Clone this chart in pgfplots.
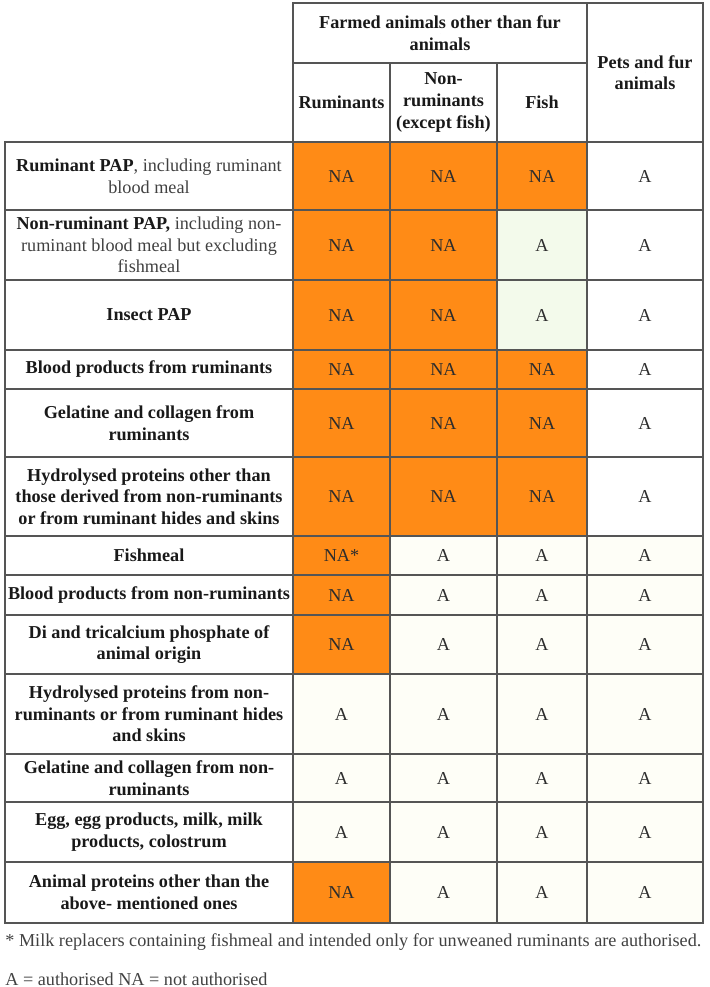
\documentclass[border=0pt]{standalone}
\usepackage{fontspec}
\setmainfont{Liberation Serif}
\usepackage{pgfplots}
\pgfplotsset{compat=1.18}
\definecolor{na}{RGB}{255,139,22}
\definecolor{ac}{RGB}{254,254,247}
\definecolor{ag}{RGB}{243,250,235}
\definecolor{wh}{RGB}{255,255,255}
\definecolor{rule}{RGB}{85,85,85}
\definecolor{celltxt}{RGB}{45,45,45}
\definecolor{lbl}{RGB}{25,25,25}
\definecolor{lite}{RGB}{65,65,65}

\newcommand\tabfont{\fontsize{9.1}{10.8}\selectfont}

% one node per cell, sized from the w and h columns (1 unit = 0.5pt)
\pgfplotsset{
  cellbox/.style={only marks, mark=*, mark size=0pt, mark options={draw=none,fill=none},
    visualization depends on={value \thisrow{w}\as\cw},
    visualization depends on={value \thisrow{h}\as\ch},
    visualization depends on={value \thisrow{f}\as\cfill},
    nodes near coords align={center},
    every node near coord/.append style={anchor=center, draw=rule, line width=0.6pt,
      inner sep=0pt, outer sep=0pt, text=celltxt, font=\tabfont,
      fill=\cfill, minimum width=\cw*0.5pt, minimum height=\ch*0.5pt}},
}
\tikzset{
  hd/.style={align=center, font=\tabfont\bfseries, text=lbl, inner sep=0pt},
  note/.style={anchor=base west, inner sep=0pt, text=lite, font=\tabfont},
}

\begin{document}
\begin{tikzpicture}
\begin{axis}[scale only axis, width=354.5pt, height=493.5pt,
  xmin=0, xmax=709, ymin=0, ymax=987, y dir=reverse,
  hide axis, clip=false]
\path (axis cs:0,0) rectangle (axis cs:709,987);

% header cells and row-label cells (no value, left unfilled)
\addplot[cellbox, nodes near coords={\relax}] table {
x     y     w   h   f
440   33    294 60  none
341.5 102.5 97  79  none
443.5 102.5 107 79  none
542   102.5 90  79  none
645   72.5  116 139 none
149   176   288 68  none
149   245   288 70  none
149   315   288 70  none
149   369.5 288 39  none
149   423   288 68  none
149   496.5 288 79  none
149   555.5 288 39  none
149   595   288 40  none
149   644.5 288 59  none
149   714   288 80  none
149   778   288 48  none
149   832   288 60  none
149   892.5 288 61  none
};

% status cells: NA = not authorised, A = authorised
\addplot[cellbox, point meta=explicit symbolic, nodes near coords] table[meta=lab] {
x     y     w   h  lab f
341.5 176   97  68 NA  na
443.5 176   107 68 NA  na
542   176   90  68 NA  na
645   176   116 68 A   wh
341.5 245   97  70 NA  na
443.5 245   107 70 NA  na
542   245   90  70 A   ag
645   245   116 70 A   wh
341.5 315   97  70 NA  na
443.5 315   107 70 NA  na
542   315   90  70 A   ag
645   315   116 70 A   wh
341.5 369.5 97  39 NA  na
443.5 369.5 107 39 NA  na
542   369.5 90  39 NA  na
645   369.5 116 39 A   wh
341.5 423   97  68 NA  na
443.5 423   107 68 NA  na
542   423   90  68 NA  na
645   423   116 68 A   wh
341.5 496.5 97  79 NA  na
443.5 496.5 107 79 NA  na
542   496.5 90  79 NA  na
645   496.5 116 79 A   wh
341.5 555.5 97  39 NA* na
443.5 555.5 107 39 A   ac
542   555.5 90  39 A   ac
645   555.5 116 39 A   ac
341.5 595   97  40 NA  na
443.5 595   107 40 A   ac
542   595   90  40 A   ac
645   595   116 40 A   ac
341.5 644.5 97  59 NA  na
443.5 644.5 107 59 A   ac
542   644.5 90  59 A   ac
645   644.5 116 59 A   ac
341.5 714   97  80 A   ac
443.5 714   107 80 A   ac
542   714   90  80 A   ac
645   714   116 80 A   ac
341.5 778   97  48 A   ac
443.5 778   107 48 A   ac
542   778   90  48 A   ac
645   778   116 48 A   ac
341.5 832   97  60 A   ac
443.5 832   107 60 A   ac
542   832   90  60 A   ac
645   832   116 60 A   ac
341.5 892.5 97  61 NA  na
443.5 892.5 107 61 A   ac
542   892.5 90  61 A   ac
645   892.5 116 61 A   ac
};

\node[hd] at (axis cs:440,33) {Farmed animals other than fur\\animals};
\node[hd] at (axis cs:341.5,102.5) {Ruminants};
\node[hd] at (axis cs:443.5,102.5) {Non-\\ruminants\\(except fish)};
\node[hd] at (axis cs:542,102.5) {Fish};
\node[hd] at (axis cs:645,72.5) {Pets and fur\\animals};

\node[hd] at (axis cs:149,176) {Ruminant PAP\textcolor{lite}{\mdseries, including ruminant}\\\textcolor{lite}{\mdseries blood meal}};
\node[hd] at (axis cs:149,245) {Non-ruminant PAP,\textcolor{lite}{\mdseries{} including non-}\\\textcolor{lite}{\mdseries ruminant blood meal but excluding}\\\textcolor{lite}{\mdseries fishmeal}};
\node[hd] at (axis cs:149,315) {Insect PAP};
\node[hd] at (axis cs:149,369.5) {Blood products from ruminants};
\node[hd] at (axis cs:149,423) {Gelatine and collagen from\\ruminants};
\node[hd] at (axis cs:149,496.5) {Hydrolysed proteins other than\\those derived from non-ruminants\\or from ruminant hides and skins};
\node[hd] at (axis cs:149,555.5) {Fishmeal};
\node[hd] at (axis cs:149,595) {Blood products from non-ruminants};
\node[hd] at (axis cs:149,644.5) {Di and tricalcium phosphate of\\animal origin};
\node[hd] at (axis cs:149,714) {Hydrolysed proteins from non-\\ruminants or from ruminant hides\\and skins};
\node[hd] at (axis cs:149,778) {Gelatine and collagen from non-\\ruminants};
\node[hd] at (axis cs:149,832) {Egg, egg products, milk, milk\\products, colostrum};
\node[hd] at (axis cs:149,892.5) {Animal proteins other than the\\above- mentioned ones};

\node[note] at (axis cs:5,946) {* Milk replacers containing fishmeal and intended only for unweaned ruminants are authorised.};
\node[note] at (axis cs:5,985) {A = authorised NA = not authorised};
\end{axis}
\end{tikzpicture}
\end{document}
